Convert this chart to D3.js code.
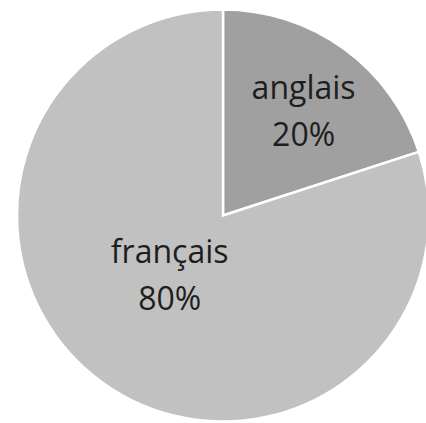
<!DOCTYPE html>
<html>
<head>
<meta charset="utf-8">
<script src="https://cdn.jsdelivr.net/npm/d3@7"></script>
<style>
  html, body { margin: 0; padding: 0; background: #ffffff; }
  svg { display: block; }
</style>
</head>
<body>
<div id="chart"></div>
<script>
// Data
const categories = ["anglais", "français"];
const values = [20, 80];
const percentLabels = ["20%", "80%"];
const sliceColors = ["#a0a0a0", "#c1c1c1"];

// Layout (not data)
const W = 426, H = 423;
const cx = 223, cy = 215.5, R = 206;
// label placement: polar angle (deg, clockwise from top) and distance as fraction of R
const labelPolar = [
  { angle: 40.7, dist: 0.60 },
  { angle: 217,  dist: 0.43 }
];

const svg = d3.select("#chart").append("svg")
  .attr("width", W).attr("height", H);

const g = svg.append("g").attr("transform", `translate(${cx},${cy})`);

const pie = d3.pie().sort(null).value(d => d.value);
const data = categories.map((c, i) => ({ name: c, value: values[i], pct: percentLabels[i], color: sliceColors[i] }));
const arcs = pie(data);

const arc = d3.arc().innerRadius(0).outerRadius(R);

g.selectAll("path.slice").data(arcs).enter().append("path")
  .attr("class", "slice")
  .attr("d", arc)
  .attr("fill", d => d.data.color)
  .attr("stroke", "#ffffff")
  .attr("stroke-width", 2.5)
  .attr("stroke-linejoin", "miter");

const fontSize = 32;
const lineGap = 47;
const baseShift = 0.5;

const labels = g.selectAll("g.label").data(arcs).enter().append("g")
  .attr("class", "label")
  .attr("transform", (d, i) => {
    const a = labelPolar[i].angle * Math.PI / 180;
    const r = labelPolar[i].dist * R;
    return `translate(${r * Math.sin(a)},${-r * Math.cos(a)})`;
  });

labels.append("text")
  .attr("text-anchor", "middle")
  .attr("y", -lineGap / 2 + baseShift)
  .attr("font-family", "'Open Sans', 'Noto Sans', sans-serif")
  .attr("font-size", fontSize)
  .attr("fill", "#1e1e1e")
  .text(d => d.data.name);

labels.append("text")
  .attr("text-anchor", "middle")
  .attr("y", lineGap / 2 + baseShift)
  .attr("font-family", "'Open Sans', 'Noto Sans', sans-serif")
  .attr("font-size", fontSize)
  .attr("fill", "#1e1e1e")
  .text(d => d.data.pct);
</script>
</body>
</html>
